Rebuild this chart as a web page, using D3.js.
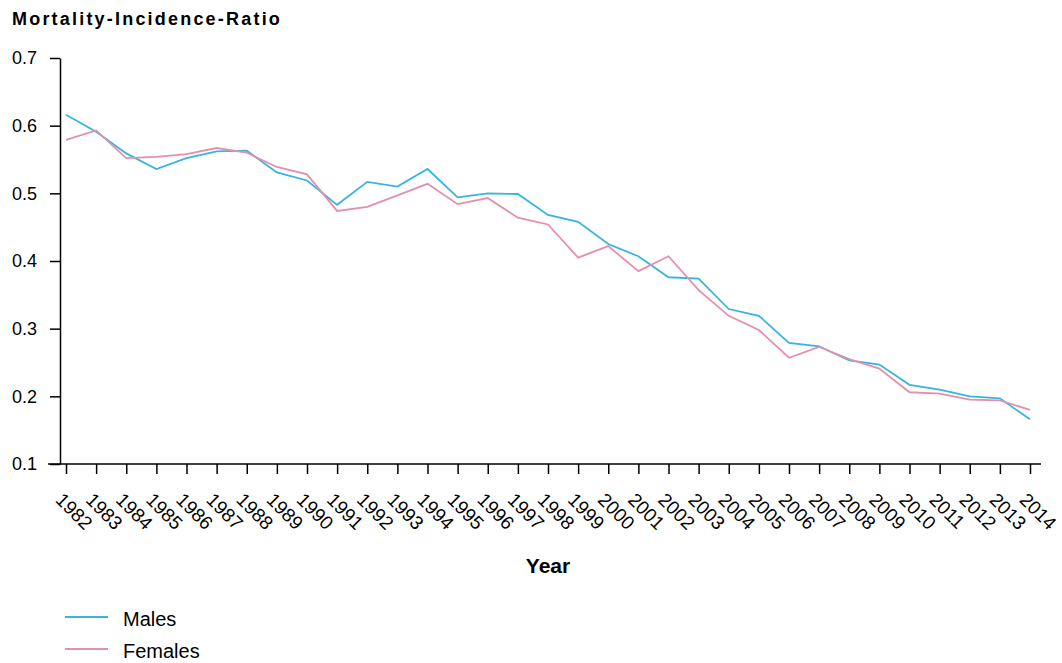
<!DOCTYPE html>
<html>
<head>
<meta charset="utf-8">
<script src="https://cdn.jsdelivr.net/npm/d3@7"></script>
<style>
  body { margin: 0; background: #fff; }
  svg { font-family: "Liberation Sans", Arial, sans-serif; }
</style>
</head>
<body>
<div id="chart"></div>
<script>
// Data
const years = d3.range(1982, 2015);
const males = [0.616, 0.591, 0.559, 0.536, 0.552, 0.562, 0.563, 0.531, 0.519, 0.483,
               0.517, 0.510, 0.536, 0.494, 0.500, 0.499, 0.468, 0.458, 0.425, 0.407,
               0.376, 0.374, 0.329, 0.319, 0.279, 0.274, 0.253, 0.247, 0.217, 0.210,
               0.200, 0.197, 0.166];
const females = [0.579, 0.593, 0.552, 0.554, 0.558, 0.567, 0.560, 0.539, 0.528, 0.474,
                 0.480, 0.497, 0.514, 0.484, 0.493, 0.464, 0.454, 0.405, 0.422, 0.385,
                 0.407, 0.357, 0.319, 0.298, 0.257, 0.273, 0.255, 0.241, 0.206, 0.204,
                 0.195, 0.194, 0.180];
const yTicks = [0.1, 0.2, 0.3, 0.4, 0.5, 0.6, 0.7];
const seriesNames = ["Males", "Females"];
const seriesColors = ["#38b5de", "#e48fab"];

const width = 1062, height = 663;
const svg = d3.select("#chart").append("svg")
    .attr("width", width)
    .attr("height", height);

// scales
const xScale = d3.scaleLinear().domain([1982, 2014]).range([66, 1030]);
const yScale = d3.scaleLinear().domain([0.1, 0.7]).range([464, 58]);
const axisX = 60;

// Title
svg.append("text")
    .attr("x", 12).attr("y", 25)
    .style("font-size", "18px")
    .style("font-weight", "bold")
    .style("letter-spacing", "2.2px")
    .text("Mortality-Incidence-Ratio");

// y axis
const yAxis = svg.append("g")
    .attr("transform", "translate(" + axisX + ",0)")
    .call(d3.axisLeft(yScale).tickValues(yTicks).tickFormat(d3.format(".1f"))
        .tickSize(10).tickSizeOuter(0).tickPadding(13));
yAxis.selectAll("text").style("font-size", "18px").attr("fill", "#000");
yAxis.selectAll("line, path").attr("stroke", "#000").attr("stroke-width", 1.5);

// x axis
const xAxis = svg.append("g")
    .attr("transform", "translate(0," + yScale(0.1) + ")")
    .call(d3.axisBottom(xScale).tickValues(years).tickFormat(d3.format("d"))
        .tickSize(10).tickSizeOuter(0));
xAxis.select(".domain").remove();
xAxis.append("line")
    .attr("x1", xScale(1982) - 18).attr("x2", xScale(2014) + 11)
    .attr("stroke", "#000").attr("stroke-width", 1.5);
xAxis.selectAll(".tick line").attr("stroke", "#000").attr("stroke-width", 1.5);
xAxis.selectAll(".tick text")
    .attr("fill", "#000")
    .style("font-size", "19px")
    .attr("text-anchor", "start")
    .attr("dy", null)
    .attr("y", 0)
    .attr("transform", "translate(-12,37) rotate(45)");

// x label
svg.append("text")
    .attr("x", (xScale(1982) + xScale(2014)) / 2)
    .attr("y", 573)
    .attr("text-anchor", "middle")
    .style("font-size", "21px")
    .style("font-weight", "bold")
    .text("Year");

// lines
const line = d3.line()
    .x((d, i) => xScale(years[i]))
    .y(d => yScale(d));

[males, females].forEach((s, i) => {
    svg.append("path")
        .datum(s)
        .attr("fill", "none")
        .attr("stroke", seriesColors[i])
        .attr("stroke-width", 1.8)
        .attr("d", line);
});

// legend
const legend = svg.selectAll(".legend")
    .data(seriesNames)
    .enter().append("g")
    .attr("class", "legend")
    .attr("transform", (d, i) => "translate(65," + (617 + i * 32) + ")");
legend.append("line")
    .attr("x1", 0).attr("x2", 43)
    .attr("stroke", (d, i) => seriesColors[i])
    .attr("stroke-width", 2);
legend.append("text")
    .attr("x", 58).attr("y", 9)
    .style("font-size", "20px")
    .text(d => d);
</script>
</body>
</html>
